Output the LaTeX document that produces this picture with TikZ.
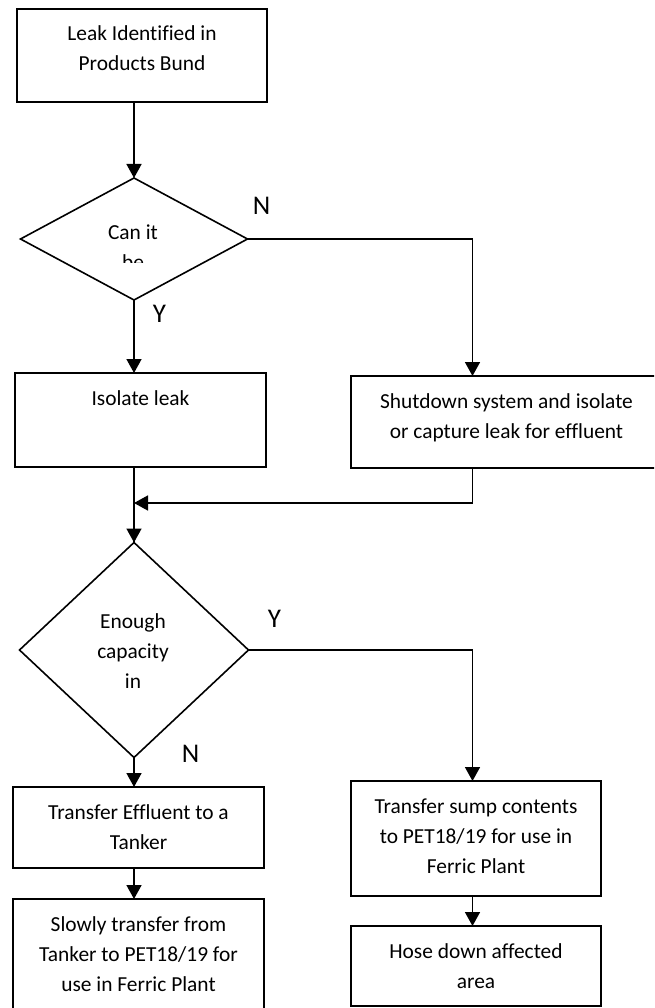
\documentclass[tikz,border=0pt]{standalone}
\usepackage{fontspec}
\setmainfont[Ligatures=NoCommon]{Carlito}
\usetikzlibrary{shapes.geometric,arrows.meta}

% Box text: fixed-size block, lines centred, first baseline 32pt below the top
\newcommand\boxtext[3]{%
  \vbox to #2{\hsize=#1\parindent=0pt\centering\baselineskip=30pt
    \hbox{}\vskip2pt #3\par\vfil}}
% Free text lines: first baseline is the node's base
\newcommand\textlines[2]{%
  \vtop{\hsize=#1\parindent=0pt\centering\baselineskip=30pt #2\par}}

\tikzset{
  x=1pt, y=-1pt,
  every node/.style={font=\fontsize{21.4}{30}\selectfont},
  box/.style={draw, line width=1.6pt, inner sep=0pt, outer sep=0pt, anchor=north west},
  decision/.style={draw, diamond, line width=1.6pt, inner sep=0pt, outer sep=0pt},
  flow/.style={line width=1.6pt},
  arr/.style={flow, -{Triangle[width=15pt,length=14pt]}},
  yn/.style={font=\fontsize{27}{30}\selectfont, inner sep=0pt},
  dtext/.style={inner sep=0pt, anchor=base},
}

\begin{document}
\begin{tikzpicture}
\useasboundingbox (0,0) rectangle (654,1008);
\clip (0,0) rectangle (654,1008);
\fill[white] (0,0) rectangle (654,1008);

% process boxes
\node[box] (lead) at (17,9) {\boxtext{250pt}{93pt}{Leak Identified in\\Products Bund}};
\node[box] (iso) at (15,373) {\boxtext{251pt}{94pt}{Isolate leak}};
\node[box] (shut) at (351,376) {\boxtext{311pt}{92pt}{Shutdown system and isolate\\or capture leak for effluent}};
\node[box] (eff) at (13,787) {\boxtext{251pt}{81pt}{Transfer Effluent to a\\Tanker}};
\node[box] (slow) at (13,899) {\boxtext{251pt}{125pt}{Slowly transfer from\\Tanker to PET18/19 for\\use in Ferric Plant}};
\node[box] (sump) at (351,781) {\boxtext{250pt}{115pt}{Transfer sump contents\\to PET18/19 for use in\\Ferric Plant}};
\node[box] (hose) at (351,926) {\boxtext{250pt}{80pt}{Hose down affected\\area}};

% decisions
\node[decision, minimum width=227pt, minimum height=122pt] (d1) at (134,239) {};
\node[decision, minimum width=229pt, minimum height=215pt] (d2) at (134,650) {};

% decision texts (the first one runs past its text frame)
\begin{scope}
  \clip (20,170) rectangle (250,262);
  \node[dtext] (t1) at (133,240) {\textlines{120pt}{Can it\\be}};
\end{scope}
\node[dtext] (t2) at (133,628) {\textlines{120pt}{Enough\\capacity\\in}};

% branch labels
\node[yn] (n1) at (261.5,206) {N};
\node[yn] (y1) at (159.5,314) {Y};
\node[yn] (y2) at (274.5,618.5) {Y};
\node[yn] (n2) at (190.5,754) {N};

% routing points
\coordinate (rx) at (472.5,0);
\coordinate (merge) at (134,503);

% connectors
\draw[arr] (d1.north |- lead.south) -- (d1.north);
\draw[arr] (d1.south) -- (d1.south |- iso.north);
\draw[arr] (d1.east) -| (rx |- shut.north);
\draw[flow] (d1.south |- iso.south) -- (d2.north);
\draw[arr] (rx |- shut.south) |- (merge);
\draw[arr] (merge) -- (d2.north);
\draw[arr] (d2.east) -| (rx |- sump.north);
\draw[arr] (d2.south) -- (d2.south |- eff.north);
\draw[arr] (d2.south |- eff.south) -- (d2.south |- slow.north);
\draw[arr] (rx |- sump.south) -- (rx |- hose.north);
\end{tikzpicture}
\end{document}
